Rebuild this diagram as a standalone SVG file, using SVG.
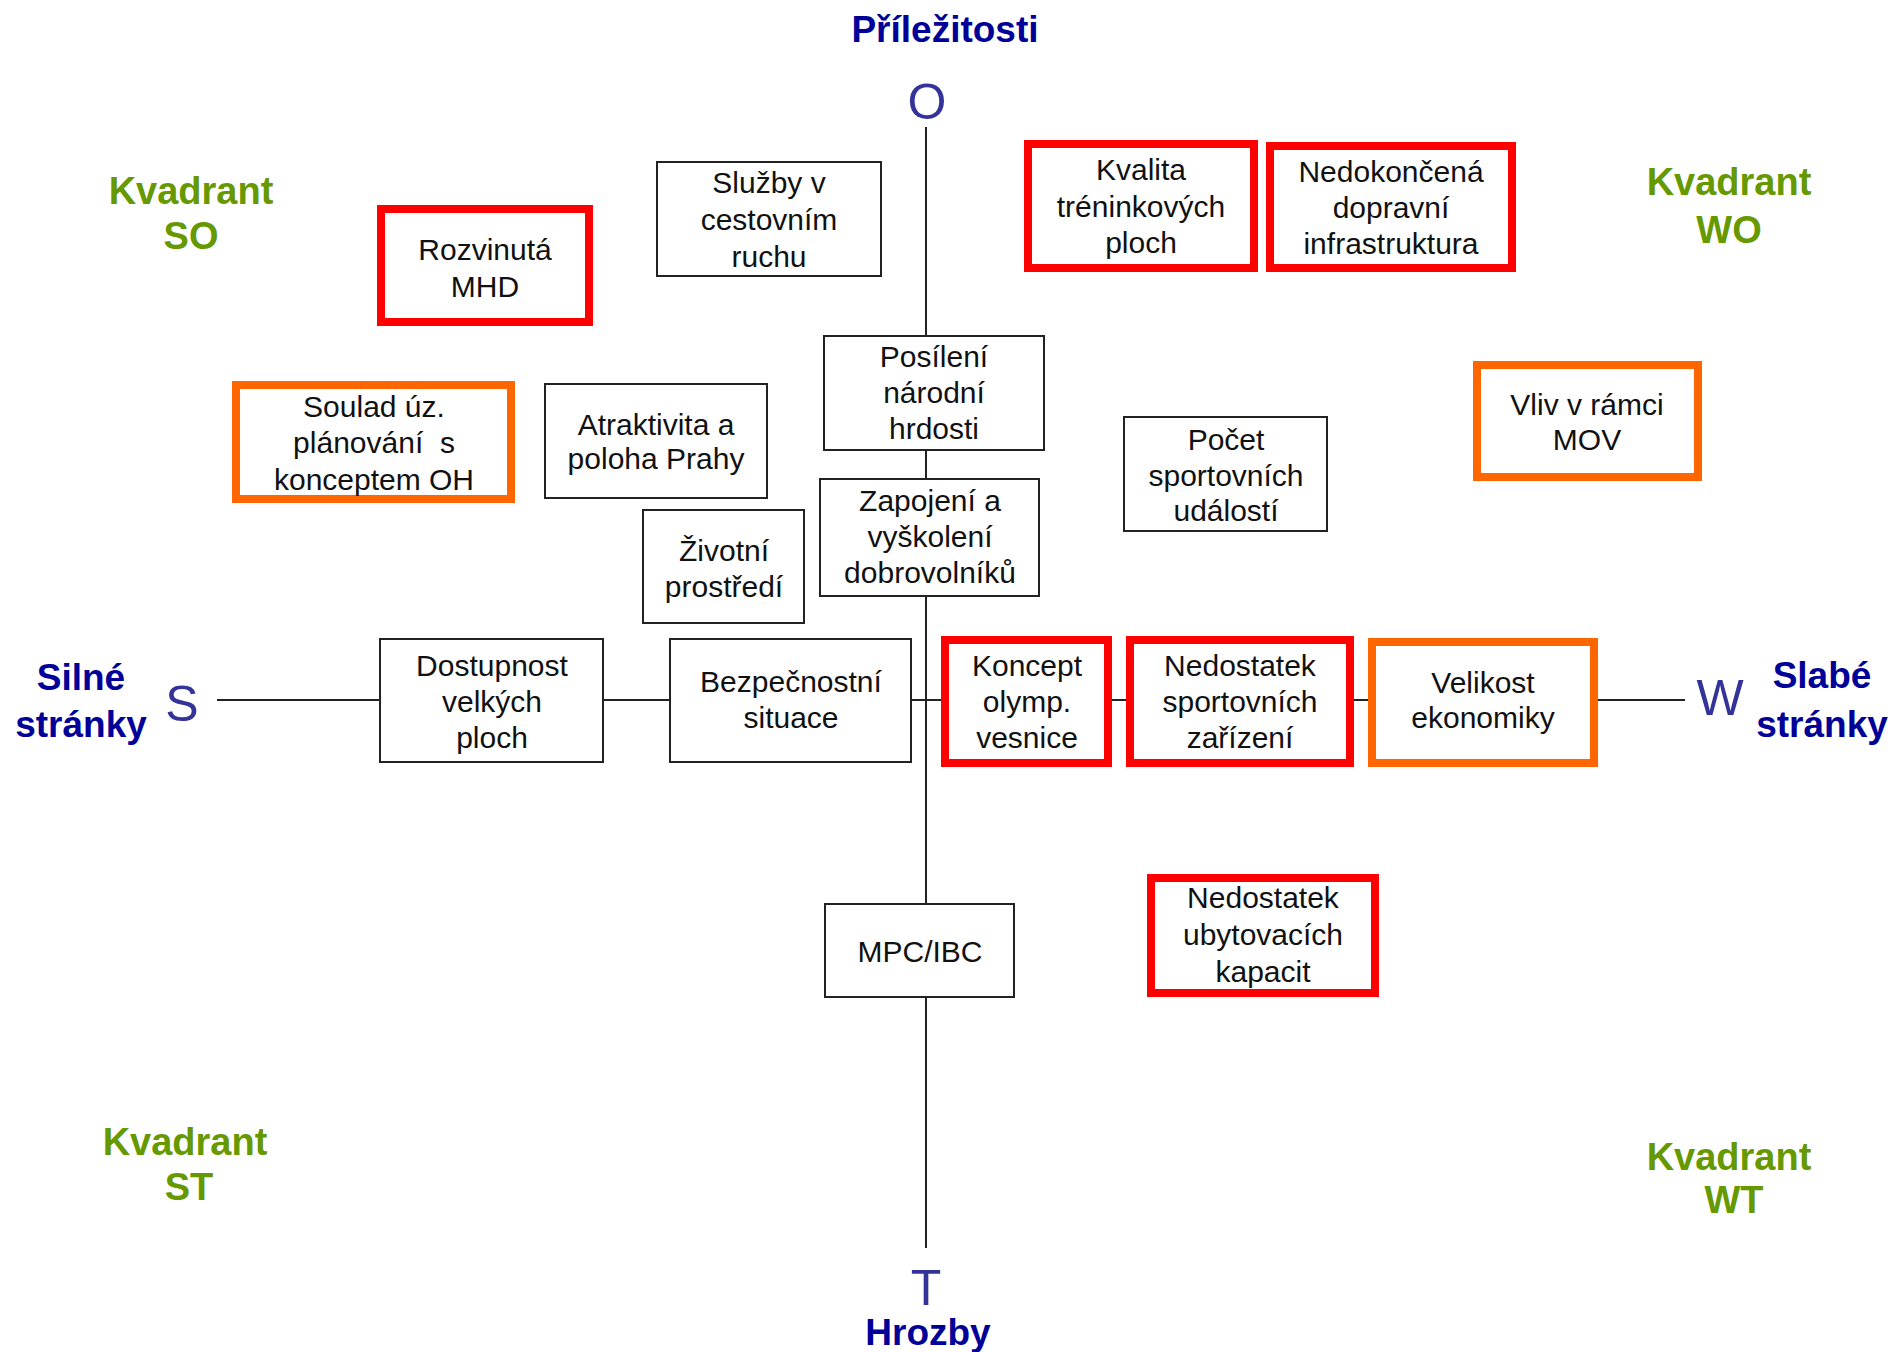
<svg xmlns="http://www.w3.org/2000/svg" width="1894" height="1352" viewBox="0 0 1894 1352">
<style>
.bg{fill:#ffffff}
.axis{stroke:#222;stroke-width:2;fill:none}
.box{fill:#fff;stroke:#222;stroke-width:2}
.red{fill:#fff;stroke:#ff0000;stroke-width:8}
.org{fill:#fff;stroke:#ff6600;stroke-width:8}
.t{font-family:"Liberation Sans",Arial,sans-serif;font-size:30px;fill:#111;text-anchor:middle}
.head{font-family:"Liberation Sans",Arial,sans-serif;font-size:37px;font-weight:bold;fill:#000099;text-anchor:middle}
.kv{font-family:"Liberation Sans",Arial,sans-serif;font-size:38px;font-weight:bold;fill:#669900;text-anchor:middle}
.let{font-family:"Liberation Sans",Arial,sans-serif;font-size:50px;fill:#333399;text-anchor:middle}
</style>
<rect class="bg" x="0" y="0" width="1894" height="1352"/>
<g id="connectors">
<line class="axis" x1="926" y1="127" x2="926" y2="1248"/>
<line class="axis" x1="217" y1="700" x2="1685" y2="700"/>
</g>
<g id="labels">
<text class="head" x="945" y="42">Příležitosti</text>
<text class="let" x="927" y="119">O</text>
<text class="let" x="926" y="1305">T</text>
<text class="head" x="928" y="1345">Hrozby</text>
<text class="let" x="182" y="721">S</text>
<text class="let" x="1720" y="715">W</text>
<text class="head" x="81" y="690">Silné</text>
<text class="head" x="81" y="737">stránky</text>
<text class="head" x="1822" y="688">Slabé</text>
<text class="head" x="1822" y="737">stránky</text>
<text class="kv" x="191" y="204">Kvadrant</text>
<text class="kv" x="191" y="249">SO</text>
<text class="kv" x="1729" y="195">Kvadrant</text>
<text class="kv" x="1729" y="243">WO</text>
<text class="kv" x="185" y="1155">Kvadrant</text>
<text class="kv" x="189" y="1200">ST</text>
<text class="kv" x="1729" y="1170">Kvadrant</text>
<text class="kv" x="1734" y="1213">WT</text>
</g>
<g id="sluzby">
<rect class="box" x="657" y="162" width="224" height="114"/>
<text class="t" x="769" y="193">Služby v</text>
<text class="t" x="769" y="230">cestovním</text>
<text class="t" x="769" y="267">ruchu</text>
</g>
<g id="rozvinuta-mhd">
<rect class="red" x="381" y="209" width="208" height="113"/>
<text class="t" x="485" y="260">Rozvinutá</text>
<text class="t" x="485" y="297">MHD</text>
</g>
<g id="kvalita">
<rect class="red" x="1028" y="144" width="226" height="124"/>
<text class="t" x="1141" y="180">Kvalita</text>
<text class="t" x="1141" y="217">tréninkových</text>
<text class="t" x="1141" y="253">ploch</text>
</g>
<g id="nedokoncena">
<rect class="red" x="1270" y="146" width="242" height="122"/>
<text class="t" x="1391" y="182">Nedokončená</text>
<text class="t" x="1391" y="218">dopravní</text>
<text class="t" x="1391" y="254">infrastruktura</text>
</g>
<g id="posileni">
<rect class="box" x="824" y="336" width="220" height="114"/>
<text class="t" x="934" y="367">Posílení</text>
<text class="t" x="934" y="403">národní</text>
<text class="t" x="934" y="439">hrdosti</text>
</g>
<g id="vliv-mov">
<rect class="org" x="1477" y="365" width="221" height="112"/>
<text class="t" x="1587" y="415">Vliv v rámci</text>
<text class="t" x="1587" y="450">MOV</text>
</g>
<g id="soulad">
<rect class="org" x="236" y="385" width="275" height="114"/>
<text class="t" x="374" y="417">Soulad úz.</text>
<text class="t" x="374" y="453" xml:space="preserve">plánování  s</text>
<text class="t" x="374" y="490">konceptem OH</text>
</g>
<g id="atraktivita">
<rect class="box" x="545" y="384" width="222" height="114"/>
<text class="t" x="656" y="435">Atraktivita a</text>
<text class="t" x="656" y="469">poloha Prahy</text>
</g>
<g id="pocet">
<rect class="box" x="1124" y="417" width="203" height="114"/>
<text class="t" x="1226" y="450">Počet</text>
<text class="t" x="1226" y="486">sportovních</text>
<text class="t" x="1226" y="521">událostí</text>
</g>
<g id="zapojeni">
<rect class="box" x="820" y="479" width="219" height="117"/>
<text class="t" x="930" y="511">Zapojení a</text>
<text class="t" x="930" y="547">vyškolení</text>
<text class="t" x="930" y="583">dobrovolníků</text>
</g>
<g id="zivotni">
<rect class="box" x="643" y="510" width="161" height="113"/>
<text class="t" x="724" y="561">Životní</text>
<text class="t" x="724" y="597">prostředí</text>
</g>
<g id="dostupnost">
<rect class="box" x="380" y="639" width="223" height="123"/>
<text class="t" x="492" y="676">Dostupnost</text>
<text class="t" x="492" y="712">velkých</text>
<text class="t" x="492" y="748">ploch</text>
</g>
<g id="bezpecnost">
<rect class="box" x="670" y="639" width="241" height="123"/>
<text class="t" x="791" y="692">Bezpečnostní</text>
<text class="t" x="791" y="728">situace</text>
</g>
<g id="koncept">
<rect class="red" x="945" y="640" width="163" height="123"/>
<text class="t" x="1027" y="676">Koncept</text>
<text class="t" x="1027" y="712">olymp.</text>
<text class="t" x="1027" y="748">vesnice</text>
</g>
<g id="nedostatek-sport">
<rect class="red" x="1130" y="640" width="220" height="123"/>
<text class="t" x="1240" y="676">Nedostatek</text>
<text class="t" x="1240" y="712">sportovních</text>
<text class="t" x="1240" y="748">zařízení</text>
</g>
<g id="velikost">
<rect class="org" x="1372" y="642" width="222" height="121"/>
<text class="t" x="1483" y="693">Velikost</text>
<text class="t" x="1483" y="728">ekonomiky</text>
</g>
<g id="mpc-ibc">
<rect class="box" x="825" y="904" width="189" height="93"/>
<text class="t" x="920" y="962">MPC/IBC</text>
</g>
<g id="nedostatek-ubyt">
<rect class="red" x="1151" y="878" width="224" height="115"/>
<text class="t" x="1263" y="908">Nedostatek</text>
<text class="t" x="1263" y="945">ubytovacích</text>
<text class="t" x="1263" y="982">kapacit</text>
</g>
</svg>
